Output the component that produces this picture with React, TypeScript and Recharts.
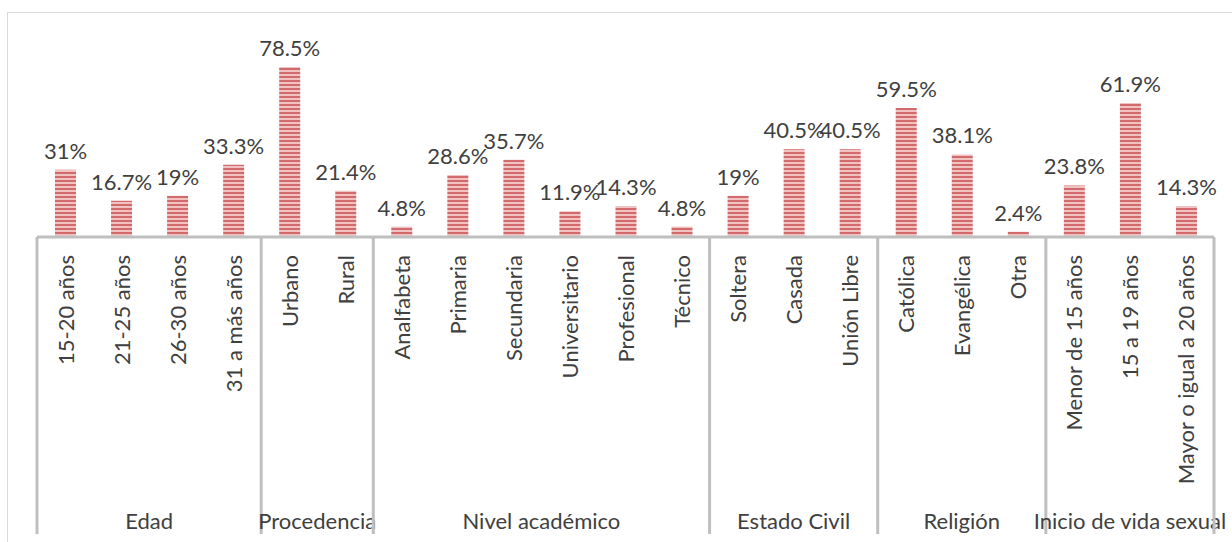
import { Bar, BarChart, LabelList, XAxis, YAxis } from "recharts";

const categories = [
  "15-20 años", "21-25 años", "26-30 años", "31 a más años",
  "Urbano", "Rural",
  "Analfabeta", "Primaria", "Secundaria", "Universitario", "Profesional", "Técnico",
  "Soltera", "Casada", "Unión Libre",
  "Católica", "Evangélica", "Otra",
  "Menor de 15 años", "15 a 19 años", "Mayor o igual a 20 años",
];

const percentages = [
  31, 16.7, 19, 33.3,
  78.5, 21.4,
  4.8, 28.6, 35.7, 11.9, 14.3, 4.8,
  19, 40.5, 40.5,
  59.5, 38.1, 2.4,
  23.8, 61.9, 14.3,
];

const groupNames = ["Edad", "Procedencia", "Nivel académico", "Estado Civil", "Religión", "Inicio de vida sexual"];
const groupSizes = [4, 2, 6, 3, 3, 3];

const data = categories.map((name, i) => ({ name, value: percentages[i] }));

// first index of each group
const groupStarts: number[] = [];
groupSizes.reduce((acc, n) => {
  groupStarts.push(acc);
  return acc + n;
}, 0);

const W = 1232;
const H = 542;
const LEFT = 37;
const RIGHT = 18;
const PLOT_W = W - LEFT - RIGHT;
const BAND = PLOT_W / categories.length;
const FONT = "Lato, sans-serif";
const FS = 22;

const CategoryTick = (props: any) => {
  const { x, y, payload } = props;
  const idx = payload.index;
  const g = groupStarts.indexOf(idx);
  const ty = y + 18;
  return (
    <g>
      <text
        x={x}
        y={ty}
        transform={`rotate(-90, ${x}, ${ty})`}
        textAnchor="end"
        dominantBaseline="central"
        fill="#404040"
        fontSize={FS}
        fontFamily={FONT}
      >
        {payload.value}
      </text>
      {g >= 0 && (
        <>
          <line x1={x - BAND / 2} x2={x - BAND / 2} y1={y} y2={534} stroke="#bfbfbf" strokeWidth={3} />
          <text
            x={x - BAND / 2 + (groupSizes[g] * BAND) / 2}
            y={520}
            textAnchor="middle"
            dominantBaseline="central"
            fill="#404040"
            fontSize={FS}
            fontFamily={FONT}
          >
            {groupNames[g]}
          </text>
        </>
      )}
      {idx === categories.length - 1 && (
        <line x1={x + BAND / 2} x2={x + BAND / 2} y1={y} y2={534} stroke="#bfbfbf" strokeWidth={3} />
      )}
    </g>
  );
};

export default function App() {
  return (
    <div style={{ position: "absolute", left: 0, top: 0, width: W, height: H, background: "#fff", overflow: "hidden" }}>
      <svg width={0} height={0} style={{ position: "absolute" }}>
        <defs>
          <pattern id="stripes" width={4} height={4} patternUnits="userSpaceOnUse">
            <rect width={4} height={4} fill="#f0c2c2" />
            <rect width={4} height={2} fill="#d26a6b" />
          </pattern>
        </defs>
      </svg>
      <div
        style={{
          position: "absolute",
          left: 7,
          top: 12,
          width: W,
          height: H,
          border: "1.5px solid #d9d9d9",
        }}
      />
      <div style={{ position: "absolute", left: 0, top: 0 }}>
        <BarChart width={W} height={H} data={data} margin={{ top: 42, right: RIGHT, left: LEFT, bottom: 0 }} barSize={21}>
          <YAxis hide domain={[0, 90]} />
          <XAxis
            dataKey="name"
            interval={0}
            height={305}
            tickLine={false}
            tickSize={0}
            tickMargin={0}
            axisLine={{ stroke: "#bfbfbf", strokeWidth: 3 }}
            tick={<CategoryTick />}
          />
          <Bar dataKey="value" fill="url(#stripes)" isAnimationActive={false}>
            <LabelList
              dataKey="value"
              position="top"
              offset={11}
              formatter={(v: any) => `${v}%`}
              fill="#404040"
              fontSize={FS}
              fontFamily={FONT}
            />
          </Bar>
        </BarChart>
      </div>
    </div>
  );
}
